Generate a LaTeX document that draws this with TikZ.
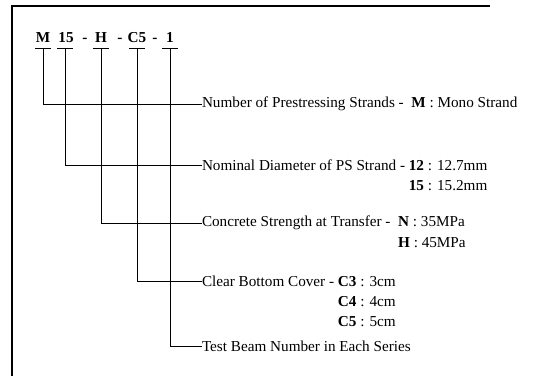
\documentclass[tikz,border=0pt]{standalone}
\usepackage{fontspec}
\setmainfont{Liberation Serif}
\begin{document}
\begin{tikzpicture}[x=1pt,y=-1pt,
  every node/.style={inner sep=0pt, outer sep=0pt},
  txt/.style={font=\fontsize{15.2}{18}\selectfont, anchor=west},
  code/.style={font=\fontsize{15.2}{18}\selectfont\bfseries, anchor=base},
  val/.style={font=\fontsize{15.2}{18}\selectfont, anchor=base west},
  conn/.style={line width=0.9pt},
  bar/.style={line width=0.9pt},
  frame/.style={line width=1.2pt}]
\useasboundingbox (0,0) rectangle (540,376);
\draw[frame] (12,376) -- (12,6) -- (490,6);
% code
\node[code] (cM) at (43,42) {M};
\node[code] (c15) at (66,42) {15};
\node[code] (d1) at (85,42) {-};
\node[code] (cH) at (101,42) {H};
\node[code] (d2) at (120,42) {-};
\node[code] (cC5) at (137,42) {C5};
\node[code] (d3) at (155,42) {-};
\node[code] (c1) at (170,42) {1};
\coordinate (tM) at (43,48);
\coordinate (t15) at (65,48);
\coordinate (tH) at (101,48);
\coordinate (tC5) at (137,48);
\coordinate (t1) at (170,48);
\foreach \t in {tM,t15,tH,tC5,t1}
  \draw[bar] ([xshift=-8pt]\t) -- ([xshift=8pt]\t);
% labels
\node[txt] (lNum) at (202,104) {Number of Prestressing Strands -~~\textbf{M} : Mono Strand};
\node[txt] (lNom) at (202,165) {Nominal Diameter of PS Strand -~\null};
\node[val] (v12) at (lNom.base east) {\textbf{12} : 12.7mm};
\node[val] (v15) at ([yshift=-20pt]v12.base west) {\textbf{15} : 15.2mm};
\node[txt] (lCon) at (202,223) {Concrete Strength at Transfer -~~\null};
\node[val] (vN) at (lCon.base east) {\textbf{N} : 35MPa};
\node[val] (vH) at ([yshift=-21pt]vN.base west) {\textbf{H} : 45MPa};
\node[txt] (lCov) at (202,281) {Clear Bottom Cover -~\null};
\node[val] (vC3) at (lCov.base east) {\textbf{C3} : 3cm};
\node[val] (vC4) at ([yshift=-20pt]vC3.base west) {\textbf{C4} : 4cm};
\node[val] (vC5) at ([yshift=-20pt]vC4.base west) {\textbf{C5} : 5cm};
\node[txt] (lTest) at (202,346) {Test Beam Number in Each Series};
% connectors
\draw[conn] (tM) |- (lNum.west);
\draw[conn] (t15) |- (lNom.west);
\draw[conn] (tH) |- (lCon.west);
\draw[conn] (tC5) |- (lCov.west);
\draw[conn] (t1) |- (lTest.west);
\end{tikzpicture}
\end{document}
